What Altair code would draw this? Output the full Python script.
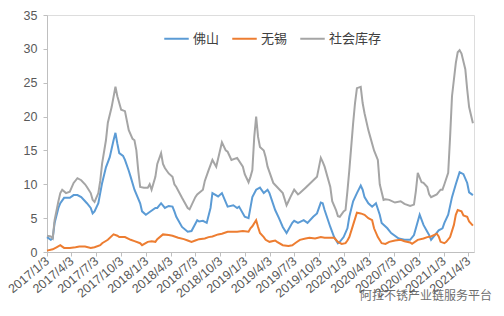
import altair as alt
import pandas as pd

START = pd.Timestamp("2017-01-03")

series_names = ["佛山", "无锡", "社会库存"]
series_colors = ["#5B9BD5", "#ED7D31", "#A5A5A5"]

# (weeks since 2017-01-03, value)
foshan = [(0,2.2),(2,1.8),(3,2.0),(4,4.3),(6,6.5),(7,7.2),(9,8.0),(12,8.0),(14,8.4),(16,8.4),(18,8.1),(21,7.2),(23,6.5),(24,5.7),(25,6.0),(27,7.2),(29,10.2),(31,12.5),(33,14.0),(35,16.5),(36,17.6),(37,16.0),(38,14.6),(40,14.2),(41,13.6),(43,12.0),(44,11.1),(46,9.2),(49,7.2),(50,6.0),(52,5.5),(54,5.9),(57,6.5),(58,6.5),(60,7.2),(62,6.5),(64,6.8),(66,6.7),(67,6.0),(68,5.2),(71,3.7),(74,3.0),(76,3.1),(79,4.7),(80,4.5),(82,4.6),(84,4.3),(86,6.5),(87,8.7),(90,8.2),(92,8.7),(95,6.7),(98,6.9),(100,6.5),(101,6.7),(104,5.2),(106,5.0),(108,8.1),(110,9.2),(112,9.5),(114,8.7),(116,9.2),(117,8.7),(120,6.2),(122,5.0),(124,3.7),(126,2.8),(129,4.3),(130,4.6),(132,4.3),(135,4.7),(137,4.3),(140,5.2),(142,5.7),(144,7.3),(145,7.2),(146,6.2),(149,3.7),(151,2.2),(153,1.3),(154,1.5),(156,2.2),(158,3.5),(159,5.2),(161,7.5),(163,8.7),(165,9.8),(166,9.2),(167,8.1),(169,7.2),(171,6.7),(173,7.2),(175,5.5),(176,4.3),(179,3.5),(181,2.8),(185,2.0),(188,1.8),(191,1.8),(193,2.5),(195,4.5),(196,5.5),(198,4.0),(200,3.0),(201,2.5),(202,1.8),(204,2.5),(206,3.2),(208,3.5),(209,4.3),(211,5.5),(213,8.1),(215,10.0),(217,11.8),(219,11.5),(221,10.2),(222,8.8),(224,8.4)]

wuxi = [(0,0.2),(3,0.4),(5,0.7),(7,1.0),(8,0.8),(9,0.6),(12,0.6),(15,0.7),(17,0.8),(20,0.8),(23,0.6),(25,0.7),(28,1.0),(29,1.3),(32,1.8),(35,2.6),(37,2.4),(38,2.2),(41,2.2),(44,1.8),(46,1.6),(49,1.3),(50,1.0),(53,1.5),(55,1.6),(57,1.5),(58,1.9),(61,2.6),(64,2.5),(66,2.4),(69,2.1),(72,1.9),(74,1.7),(76,1.5),(78,1.7),(80,1.9),(83,2.0),(85,2.2),(87,2.3),(90,2.6),(92,2.7),(95,3.0),(98,3.0),(100,3.0),(103,3.1),(106,3.0),(107,3.5),(108,3.8),(110,4.7),(111,3.7),(112,2.8),(114,2.2),(115,1.8),(117,1.5),(120,1.7),(121,1.5),(124,1.0),(127,0.9),(129,1.0),(131,1.4),(133,1.8),(136,2.0),(138,2.1),(141,2.0),(144,2.2),(146,2.1),(149,2.1),(151,2.1),(153,1.5),(155,1.2),(157,1.3),(158,1.7),(159,2.2),(161,4.0),(163,5.8),(165,5.7),(167,5.5),(169,5.0),(171,4.7),(172,3.5),(174,2.2),(176,1.3),(178,1.2),(180,1.5),(183,1.7),(186,1.8),(188,1.6),(191,1.4),(192,1.2),(195,1.8),(198,2.0),(200,2.2),(202,2.3),(205,2.7),(206,2.3),(207,1.5),(209,1.3),(210,1.5),(212,2.2),(214,4.0),(215,5.5),(216,6.2),(218,6.0),(219,5.4),(221,5.2),(222,4.5),(224,3.9)]

shehui = [(0,2.4),(2,2.3),(3,2.0),(4,4.7),(6,7.5),(7,8.7),(8,9.2),(10,8.7),(12,8.9),(14,10.2),(16,10.9),(18,10.6),(20,10.0),(21,9.6),(23,8.7),(24,7.7),(25,7.4),(27,8.7),(28,10.5),(29,13.1),(31,16.5),(32,19.1),(34,21.4),(36,24.4),(37,23.0),(39,21.0),(41,20.8),(43,18.0),(45,16.7),(46,16.5),(47,15.0),(48,12.0),(49,9.6),(51,9.5),(53,9.5),(54,10.0),(55,9.2),(57,11.1),(58,13.0),(60,14.6),(61,13.0),(62,12.4),(64,11.6),(66,11.1),(67,10.0),(68,9.6),(71,8.0),(74,6.5),(75,6.3),(78,8.1),(79,8.5),(82,9.2),(83,10.5),(85,12.1),(87,13.6),(89,12.6),(91,15.0),(92,16.2),(94,15.0),(95,14.8),(97,13.6),(100,13.9),(103,12.6),(104,11.5),(106,10.3),(107,11.1),(108,12.1),(109,17.0),(110,20.0),(111,17.0),(112,15.5),(114,15.0),(115,14.0),(116,12.6),(119,10.2),(121,9.6),(124,8.7),(126,6.9),(127,7.5),(128,8.1),(130,9.2),(132,8.5),(133,8.7),(136,9.5),(139,10.3),(142,11.1),(144,13.9),(145,13.3),(146,12.6),(149,9.6),(150,7.5),(152,6.2),(153,5.3),(154,5.2),(156,6.0),(157,6.2),(158,9.0),(159,12.1),(161,19.0),(162,22.0),(163,24.2),(165,24.4),(166,22.0),(167,20.5),(169,18.0),(170,17.0),(172,15.0),(174,13.6),(175,10.0),(177,7.7),(178,7.8),(180,7.7),(183,7.3),(186,7.5),(188,7.1),(191,6.8),(193,7.0),(194,9.0),(195,11.7),(197,10.3),(198,10.2),(200,9.6),(201,8.5),(202,8.1),(205,8.5),(207,9.2),(208,9.2),(209,10.0),(211,11.7),(212,17.0),(213,23.0),(215,27.9),(216,29.5),(217,29.8),(218,29.3),(220,27.0),(221,24.0),(222,21.4),(224,19.0)]

tick_dates = [(2017,1,3),(2017,4,3),(2017,7,3),(2017,10,3),(2018,1,3),(2018,4,3),(2018,7,3),(2018,10,3),
              (2019,1,3),(2019,4,3),(2019,7,3),(2019,10,3),(2020,1,3),(2020,4,3),(2020,7,3),(2020,10,3),
              (2021,1,3),(2021,4,3)]
y_ticks = [0, 5, 10, 15, 20, 25, 30, 35]
watermark = "阿拉不锈产业链服务平台"

rows = []
for name, pts in zip(series_names, [foshan, wuxi, shehui]):
    for w, v in pts:
        rows.append({"date": (START + pd.Timedelta(weeks=w)).strftime("%Y-%m-%d"),
                     "series": name, "value": v})
df = pd.DataFrame(rows)

label_gray = "#595959"
axis_line = "#BFBFBF"

lines = alt.Chart(df).mark_line(strokeWidth=2).encode(
    x=alt.X("date:T",
            scale=alt.Scale(type="utc", nice=False,
                            domain=[alt.DateTime(year=2017, month=1, date=3, utc=True),
                                    alt.DateTime(year=2021, month=4, date=24, utc=True)]),
            axis=alt.Axis(title=None, grid=False,
                          values=[alt.DateTime(year=a, month=b, date=c, utc=True) for a, b, c in tick_dates],
                          format="%Y/%-m/%-d",
                          labelAngle=-40, labelFontSize=12.5, labelColor=label_gray,
                          labelFont="Liberation Sans", labelOverlap=False, labelPadding=3,
                          labelAlign="right", labelBaseline="middle",
                          domainColor=axis_line, tickColor=axis_line, tickSize=4)),
    y=alt.Y("value:Q",
            scale=alt.Scale(domain=[0, 35], nice=False),
            axis=alt.Axis(title=None, grid=False, values=y_ticks,
                          labelFontSize=12.5, labelColor=label_gray, labelFont="Liberation Sans",
                          labelPadding=6,
                          domainColor=axis_line, tickColor=axis_line, tickSize=4)),
    color=alt.Color("series:N",
                    scale=alt.Scale(domain=series_names, range=series_colors),
                    sort=series_names,
                    legend=alt.Legend(title=None, orient="none", legendX=116, legendY=10,
                                      direction="horizontal", symbolType="stroke",
                                      symbolSize=600, symbolStrokeWidth=2,
                                      labelFontSize=13, labelFont="Noto Sans CJK SC",
                                      labelColor="#404040", columnPadding=8, labelOffset=3)),
    order="date:T",
)

wm = alt.Chart(pd.DataFrame({"t": [watermark]})).mark_text(
    align="left", baseline="middle", fontSize=12, font="Noto Sans CJK SC",
    color="#555555", opacity=0.85
).encode(text="t:N", x=alt.value(313), y=alt.value(281))

chart = alt.layer(lines, wm).properties(
    width=427, height=237,
    autosize=alt.AutoSizeParams(type="none"),
    padding={"left": 47, "top": 15, "right": 30, "bottom": 64},
).configure_view(stroke=None).configure(background="white")

chart.save("out.html", embed_options={"renderer": "svg", "actions": False})
